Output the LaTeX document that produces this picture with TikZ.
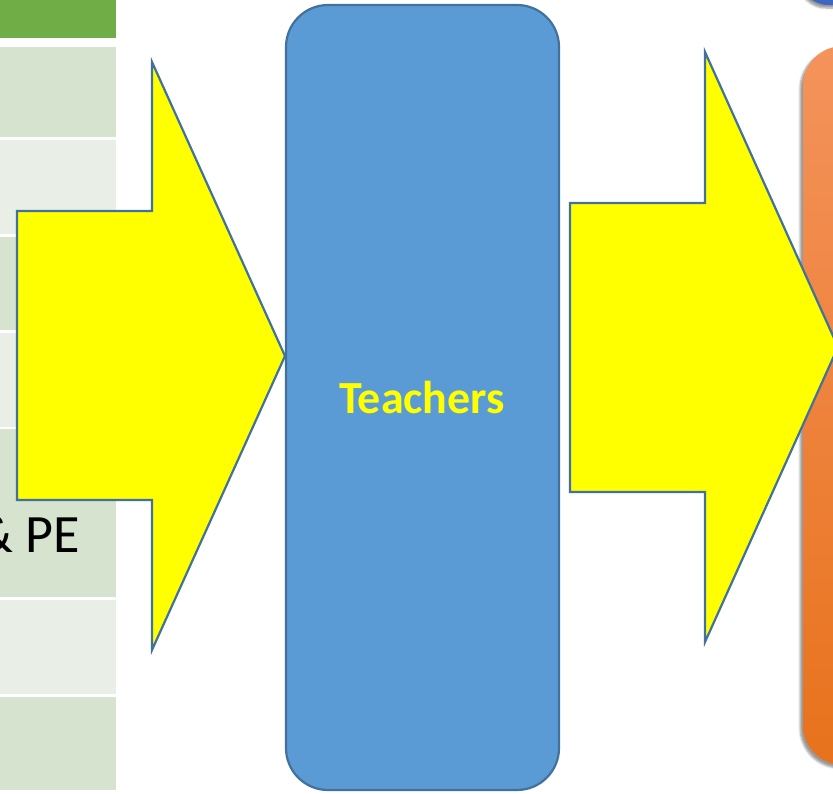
\documentclass[tikz,border=0pt]{standalone}
\usepackage{fontspec}
\setmainfont{Carlito}
\usetikzlibrary{shadows.blur}
\definecolor{hdr}{HTML}{70AD47}
\definecolor{rowA}{HTML}{D6E3CE}
\definecolor{rowB}{HTML}{E9EFE6}
\definecolor{edgeblue}{HTML}{41719C}
\definecolor{boxblue}{HTML}{5B9BD5}
\definecolor{darkblue}{HTML}{3F66C0}
\definecolor{orTop}{HTML}{F4935C}
\definecolor{orBot}{HTML}{E8721C}
\definecolor{pureyellow}{RGB}{255,255,0}
\tikzset{
  rowa/.style={fill=rowA, draw=none},
  rowb/.style={fill=rowB, draw=none},
  bigarrow/.style={fill=pureyellow, draw=edgeblue, line width=2.2pt, line join=miter},
}
\begin{document}
\begin{tikzpicture}[x=1pt,y=-1pt]
\useasboundingbox (0,0) rectangle (833,793);
\clip (0,0) rectangle (833,793);
% table column
\fill[hdr] (0,0) rectangle (116,38);
\path[rowa] (0,47) rectangle (116,137);
\path[rowb] (0,140) rectangle (116,234);
\path[rowa] (0,237) rectangle (116,330);
\path[rowb] (0,333) rectangle (116,427);
\path[rowa] (0,429) rectangle (116,597);
\path[rowb] (0,600) rectangle (116,694);
\path[rowa] (0,697) rectangle (116,790);
\node[anchor=base east, inner sep=0pt, font=\fontsize{54}{60}\selectfont] (pe) at (80,552) {\& PE};
% arrow 1
\draw[bigarrow] (17,211) -- (152,211) -- (152,62) -- (285,356) -- (152,650) -- (152,500) -- (17,500) -- cycle;
% teachers box
\draw[fill=boxblue, draw=edgeblue, line width=2.2pt, rounded corners=42pt] (286,5) rectangle (559,790);
\node[anchor=base, inner sep=0pt, text=pureyellow, font=\bfseries\fontsize{46}{54}\selectfont] (teachers) at (422,413) {Teachers};
% top right blue shape
\path[fill=darkblue, rounded corners=28pt, blur shadow={shadow xshift=-2pt, shadow yshift=-3pt, shadow blur steps=6}] (800,-100) rectangle (900,5);
% orange box
\path[top color=orTop, bottom color=orBot, rounded corners=40pt, blur shadow={shadow xshift=-3pt, shadow yshift=-3pt, shadow blur steps=6}] (803,46) rectangle (900,765);
% arrow 2
\draw[bigarrow] (570,203) -- (705,203) -- (705,52) -- (838,347) -- (705,642) -- (705,492) -- (570,492) -- cycle;
\end{tikzpicture}
\end{document}
